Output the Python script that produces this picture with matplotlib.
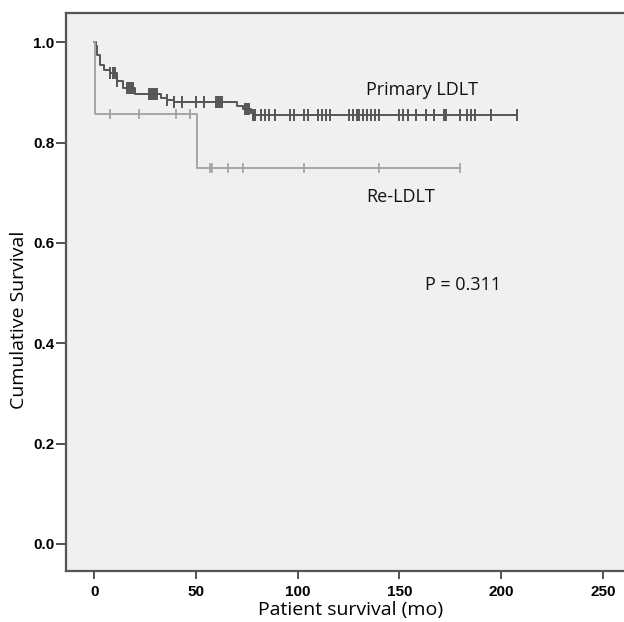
import matplotlib.pyplot as plt
import numpy as np

# Kaplan-Meier steps (months, cumulative survival)
primary_t = [0, 0.8, 1.5, 3, 5, 8, 11, 14, 20, 33, 36, 39, 70, 73, 77, 78, 208]
primary_s = [1.0, 0.992, 0.974, 0.954, 0.945, 0.938, 0.922, 0.908, 0.896, 0.888, 0.884, 0.881,
             0.872, 0.866, 0.859, 0.855, 0.855]
primary_cens = [8, 9, 10, 11, 16, 17, 18, 19, 27, 28, 29, 30, 31, 36, 39, 43, 50, 54,
                60, 61, 62, 63, 74, 75, 76, 78, 79, 82, 84, 86, 89, 96, 98, 103, 105,
                110, 112, 114, 116, 125, 127, 129, 130, 132, 134, 136, 138, 140,
                150, 152, 154, 158, 163, 167, 172, 173, 180, 183, 185, 187, 195, 208]

re_t = [0, 0.3, 50.6, 180]
re_s = [1.0, 0.857, 0.75, 0.75]
re_cens = [8, 22, 40, 47, 57, 58, 66, 73, 103, 140, 180]

labels = {"Primary LDLT": (133.5, 0.905), "Re-LDLT": (133.5, 0.692), "P = 0.311": (162.5, 0.516)}


def step_at(t, s, x):
    idx = np.searchsorted(t, x, side='right') - 1
    return np.array(s)[idx]


fig = plt.figure(figsize=(6.24, 6.22), dpi=100)
ax = fig.add_axes([0.106, 0.082, 0.894, 0.897])
ax.set_facecolor('#f0f0f0')

ax.step(primary_t, primary_s, where='post', color='#555555', lw=1.4)
ax.plot(primary_cens, step_at(primary_t, primary_s, primary_cens), ls='none',
        marker='|', ms=8, mew=1.4, color='#555555')

ax.step(re_t, re_s, where='post', color='#a0a0a0', lw=1.3)
ax.plot(re_cens, step_at(re_t, re_s, re_cens), ls='none',
        marker='|', ms=7, mew=1.2, color='#a0a0a0')

for txt, (x, y) in labels.items():
    ax.text(x, y, txt, fontsize=13, family='Open Sans', va='center', ha='left', color='#111111')

ax.set_xlim(-13.8, 260.4)
ax.set_ylim(-0.054, 1.058)
ax.set_xticks([0, 50, 100, 150, 200, 250])
ax.set_yticks([0.0, 0.2, 0.4, 0.6, 0.8, 1.0])
ax.set_yticklabels(['0.0', '0.2', '0.4', '0.6', '0.8', '1.0'])
for lab in ax.get_xticklabels() + ax.get_yticklabels():
    lab.set_fontweight('bold')
    lab.set_family('Liberation Sans')
    lab.set_fontsize(11)
ax.tick_params(direction='out', width=1.3, color='#444444')
ax.tick_params(axis='x', length=6, pad=4)
ax.tick_params(axis='y', length=7, pad=1.5)

for side in ['left', 'bottom', 'top']:
    ax.spines[side].set_color('#555555')
    ax.spines[side].set_linewidth(1.6)
ax.spines['right'].set_visible(False)

ax.set_xlabel('Patient survival (mo)', fontsize=14, family='Open Sans')
ax.set_ylabel('Cumulative Survival', fontsize=14, family='Open Sans')
ax.xaxis.set_label_coords(0.509, -0.07)
ax.yaxis.set_label_coords(-0.085, 0.45)
ax.xaxis.label.set_va('center')
ax.yaxis.label.set_va('center')

fig.savefig('out.png', dpi=100)
